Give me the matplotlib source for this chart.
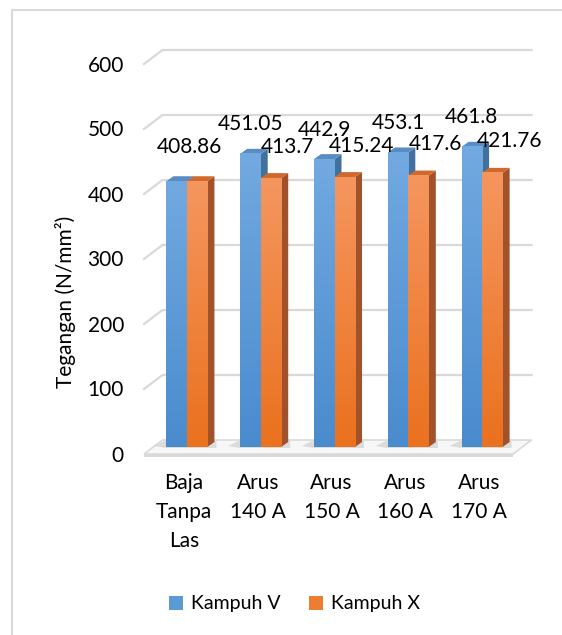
import numpy as np
import matplotlib
matplotlib.use("Agg")
import matplotlib.pyplot as plt
from matplotlib.patches import Polygon, Patch
from matplotlib.lines import Line2D
from matplotlib.transforms import IdentityTransform
from matplotlib.colors import LinearSegmentedColormap

# data
categories = ["Baja\nTanpa\nLas", "Arus\n140 A", "Arus\n150 A", "Arus\n160 A", "Arus\n170 A"]
kampuh_v = [408.86, 451.05, 442.9, 453.1, 461.8]
kampuh_x = [408.86, 413.7, 415.24, 417.6, 421.76]
series_names = ["Kampuh V", "Kampuh X"]
y_ticks = [0, 100, 200, 300, 400, 500, 600]
y_label = "Tegangan (N/mm²)"

plt.rcParams['font.family'] = ['Lato', 'DejaVu Sans']

W, H = 562, 635
fig = plt.figure(figsize=(W / 100, H / 100), dpi=100)
ax = fig.add_axes([150 / W, 188 / H, 369 / W, 390 / H])
ax.set_xlim(-0.5, 4.5)
ax.set_ylim(0, 600)
ax.axis("off")

GRID = "#d9d9d9"
FRONT = (-6, -7)   # front edge of floor / walls, pixel offset from bar plane
BACK = (12.5, 7)   # back wall
DEP = (7, 5)       # bar depth
bw = 0.278         # width of one bar in category units

idt = IdentityTransform()


def px(x, y, off=(0, 0)):
    p = ax.transData.transform((x, y))
    return (p[0] + off[0], p[1] + off[1])


def poly(pts, **kw):
    p = Polygon(pts, closed=True, transform=idt, clip_on=False, **kw)
    ax.add_patch(p)
    return p


# outer border
fig.add_artist(Line2D([12, 12, W + 5], [-5, H - 10, H - 10], transform=idt,
                      color=GRID, lw=1.5))

# floor
x0, x1 = -0.5, 4.5
fl = [px(x0, 0, FRONT), px(x0, 0, BACK), px(x1, 0, BACK), px(x1, 0, FRONT)]
poly(fl, facecolor="#f7f7f7", edgecolor=GRID, lw=1.2, zorder=1)
poly([px(x0, 0, FRONT), px(x1, 0, FRONT),
      px(x1, 0, (FRONT[0], FRONT[1] - 3)), px(x0, 0, (FRONT[0], FRONT[1] - 3))],
     facecolor=GRID, edgecolor="none", zorder=1)

# gridlines on the back wall with left side wall edge
for v in y_ticks[1:]:
    a = px(x0, v, FRONT)
    b = px(x0, v, BACK)
    c = px(x1, v, BACK)
    ax.add_line(Line2D([a[0], b[0], c[0]], [a[1], b[1], c[1]], transform=idt,
                       color=GRID, lw=1.6, zorder=1, clip_on=False))

# tick labels
for v in y_ticks:
    p = px(x0, v, FRONT)
    fig.text(p[0] - 20, p[1] - 7.5, str(v), transform=idt, ha="right",
             va="baseline", fontsize=15)

blue_front = LinearSegmentedColormap.from_list("bf", ["#72a9e0", "#4a8bce"])
orange_front = LinearSegmentedColormap.from_list("of", ["#f5965f", "#ea711e"])
styles = [
    (blue_front, "#5a8cc4", "#41719f"),
    (orange_front, "#d06a2c", "#a2522a"),
]

grad = np.linspace(0, 1, 200).reshape(-1, 1)

for i in range(len(categories)):
    vals = [kampuh_v[i], kampuh_x[i]]
    # soft shadow on the floor
    xl = px(i - bw, 0)
    xr = px(i + bw, 0)
    poly([(xl[0] - 12, xl[1] + 1), (xl[0] - 2, xl[1] + 6), (xr[0] + 9, xr[1] + 6),
          (xr[0] + 9, xr[1] - 1), (xl[0], xl[1] - 1)],
         facecolor="#c4c4c4", edgecolor="none", alpha=0.55, zorder=2)
    for k, v in enumerate(vals):
        cmap, top_c, side_c = styles[k]
        a, b = i - bw + k * bw, i + k * bw
        z = 3 + k
        # side face
        poly([px(b, 0), px(b, 0, DEP), px(b, v, DEP), px(b, v)],
             facecolor=side_c, edgecolor="none", zorder=z)
        # top face
        poly([px(a, v), px(a, v, DEP), px(b, v, DEP), px(b, v)],
             facecolor=top_c, edgecolor="none", zorder=z)
        # front face with gradient
        ax.imshow(grad, extent=[a, b, 0, v], aspect="auto", cmap=cmap,
                  origin="upper", zorder=z, interpolation="bilinear")

ax.set_xlim(-0.5, 4.5)
ax.set_ylim(0, 600)

# data labels
for i in range(len(categories)):
    vb, vo = kampuh_v[i], kampuh_x[i]
    if vb == vo:
        p = px(i, vo)
        ax.text(p[0] + 3, p[1] + 28.5, f"{vo:g}", transform=idt, ha="center",
                va="baseline", fontsize=15, zorder=10, clip_on=False)
        continue
    p = px(i - bw / 2, vb)
    ax.text(p[0], p[1] + 23.5, f"{vb:g}", transform=idt, ha="center",
            va="baseline", fontsize=15, zorder=10, clip_on=False)
    p = px(i + bw / 2, vo)
    ax.text(p[0] + 17, p[1] + 25.5, f"{vo:g}", transform=idt, ha="center",
            va="baseline", fontsize=15, zorder=10, clip_on=False)

# category labels
for i, c in enumerate(categories):
    p = px(i, 0)
    fig.text(p[0] - 3, H - 473, c, transform=idt, ha="center", va="top",
             fontsize=15, linespacing=1.55, multialignment="center")

fig.text(65 / W, 1 - 302 / H, y_label, rotation=90, ha="center", va="center",
         fontsize=15)

handles = [Patch(facecolor="#5b9bd5", edgecolor="none"),
           Patch(facecolor="#ed7d31", edgecolor="none")]
fig.legend(handles, series_names, loc="center", bbox_to_anchor=(294.5 / W, 1 - 604 / H),
           ncol=2, frameon=False, fontsize=14, handlelength=0.72, handleheight=0.72,
           handletextpad=0.4, columnspacing=1.5)

fig.savefig("out.png", dpi=100)
